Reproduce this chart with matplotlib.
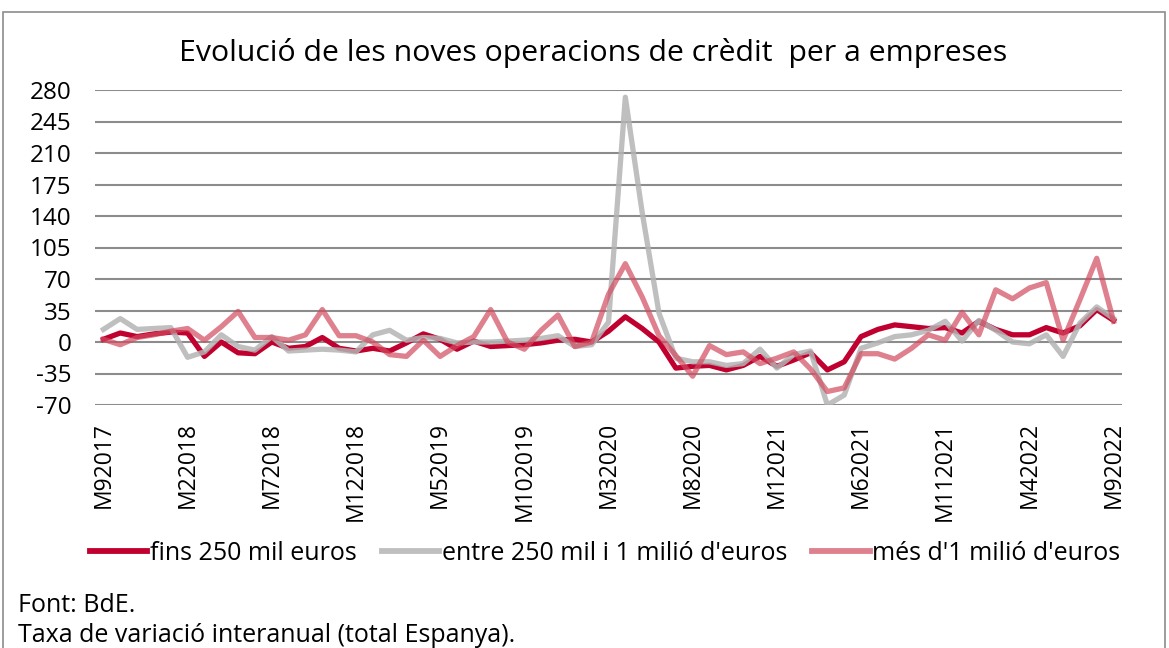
import matplotlib
matplotlib.use("Agg")
import matplotlib.pyplot as plt
from matplotlib.patches import Rectangle

# ---- data ----
months = []
m, y = 9, 2017
for _ in range(61):
    months.append(f"M{m}{y}")
    m += 1
    if m > 12:
        m, y = 1, y + 1

fins_250 = [3, 10, 6, 9, 11, 10, -16, 0, -12, -13, 0, -7, -5, 5, -7, -10, -7,
            -10, -1, 9, 3, -8, 1, -5, -4, -3, -1, 2, 3, 0, 12, 28, 15, 0,
            -29, -27, -26, -31, -26, -16, -27, -20, -12, -31, -22, 6, 14, 19, 17, 15, 16,
            10, 23, 14, 8, 8, 16, 10, 18, 36, 24]
entre_250_1m = [14, 26, 14, 15, 16, -17, -11, 8, -5, -9, 6, -10, -9, -8, -9, -11, 8,
                13, 2, 5, 4, -1, 0, 0, 1, 2, 4, 7, -5, -3, 22, 272, 144, 32,
                -18, -22, -22, -26, -24, -8, -29, -14, -10, -70, -59, -7, -1, 6, 8, 13, 23,
                1, 24, 13, 0, -2, 8, -16, 21, 39, 26]
mes_1m = [3, -3, 5, 8, 12, 15, 2, 17, 34, 5, 5, 2, 8, 36, 7, 7, 0,
          -14, -16, 2, -16, -4, 6, 36, 0, -8, 13, 30, -5, 0, 53, 87, 50, 7,
          -15, -38, -4, -14, -11, -24, -18, -11, -30, -55, -51, -13, -13, -19, -7, 8, 2,
          33, 8, 58, 48, 60, 66, 2, 47, 93, 23]

series_names = ["fins 250 mil euros", "entre 250 mil i 1 milió d'euros", "més d'1 milió d'euros"]
yticks = [-70, -35, 0, 35, 70, 105, 140, 175, 210, 245, 280]
title = "Evolució de les noves operacions de crèdit  per a empreses"
notes = ["Font: BdE.", "Taxa de variació interanual (total Espanya)."]

plt.rcParams['font.family'] = ['Open Sans', 'DejaVu Sans']

W, H = 1169, 648
fig = plt.figure(figsize=(W / 100, H / 100), dpi=100)
fig.patch.set_facecolor('white')

# outer border
fig.add_artist(Rectangle((3 / W, -0.01), (1165 - 3) / W, 1 - 12 / H + 0.01,
                         transform=fig.transFigure, fill=False,
                         edgecolor='#8c8c8c', linewidth=1.2))

ax = fig.add_axes([95 / W, 1 - 405 / H, (1122 - 95) / W, (405 - 90) / H])
x = list(range(len(months)))
ax.plot(x, fins_250, color='#C0002F', lw=3.8, label=series_names[0], zorder=3)
ax.plot(x, entre_250_1m, color='#B4B4B4', lw=3.8, alpha=0.85, label=series_names[1], zorder=4)
ax.plot(x, mes_1m, color='#D24A5F', lw=3.8, alpha=0.7, label=series_names[2], zorder=5)

ax.set_xlim(-0.5, len(months) - 0.5)
ax.set_ylim(-70, 280)
ax.set_yticks(yticks)
ax.set_yticklabels([str(v) for v in yticks], fontsize=17.5)
ax.yaxis.grid(True, color='#8c8c8c', lw=1.5)
ax.set_axisbelow(True)
ax.set_xticks(x[::5])
ax.set_xticklabels(months[::5], rotation=90, fontsize=16.5, va='top', ha='center')
ax.tick_params(axis='both', length=0)
ax.tick_params(axis='y', pad=17)
ax.tick_params(axis='x', pad=12)
for s in ax.spines.values():
    s.set_visible(False)

fig.text(593 / W, 1 - 53 / H, title, ha='center', va='center', fontsize=21.8)

leg = fig.legend(loc='center', bbox_to_anchor=(605 / W, 1 - 553 / H), ncol=3, frameon=False,
                 fontsize=18, handlelength=2.3, handletextpad=0.1, columnspacing=1.0,
                 borderaxespad=0)
for h in leg.get_lines():
    h.set_linewidth(4.2)

fig.text(18 / W, 1 - 606 / H, notes[0], ha='left', va='center', fontsize=18)
fig.text(18 / W, 1 - 636 / H, notes[1], ha='left', va='center', fontsize=18)

fig.savefig('out.png', dpi=100)
